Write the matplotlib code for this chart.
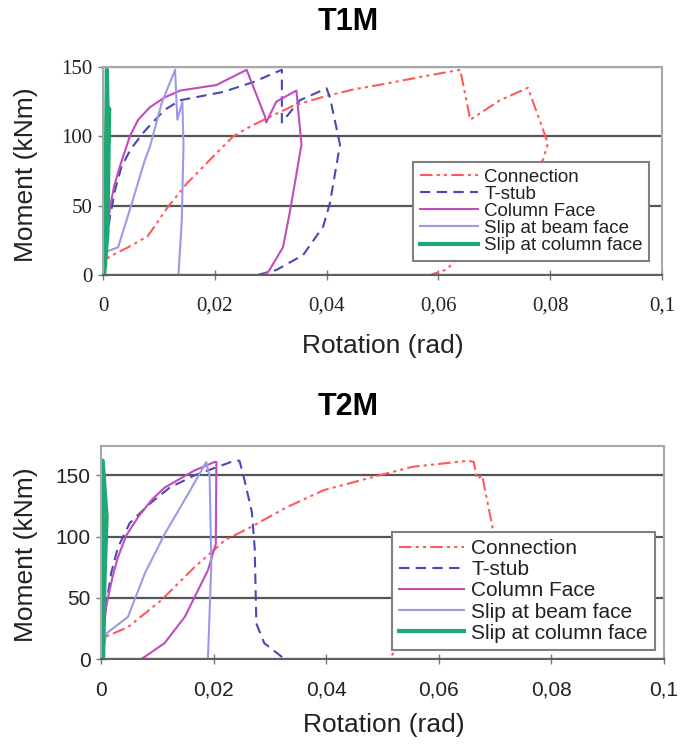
import matplotlib
matplotlib.use("Agg")
import matplotlib.pyplot as plt

# ---------------- data: T1M ----------------
t1_conn_x = [0, 0.001, 0.0045, 0.008, 0.0116, 0.015, 0.0196, 0.0233, 0.0263, 0.0293, 0.034, 0.0394, 0.045, 0.0507, 0.057, 0.0639, 0.0657, 0.071, 0.076, 0.0796, 0.0787, 0.070, 0.0615, 0.0585]
t1_conn_y = [0, 13, 20, 28, 49, 66, 85, 100, 107, 113, 122, 128.5, 134, 138, 143, 148, 112, 126, 135, 95, 83, 40, 4, 0]

t1_tstub_x = [0, 0.0005, 0.00125, 0.0022, 0.0033, 0.005, 0.0075, 0.011, 0.0138, 0.0215, 0.0268, 0.032, 0.032, 0.0352, 0.040, 0.0406, 0.0424, 0.0406, 0.0394, 0.0358, 0.031, 0.0276]
t1_tstub_y = [0, 20, 42, 62, 78, 91, 104, 119, 126, 132, 139, 148, 110, 126, 134.6, 128, 94, 52, 35, 14.4, 3.6, 0]

t1_col_x = [0, 0.0006, 0.00125, 0.002, 0.003, 0.0048, 0.0063, 0.0084, 0.011, 0.0138, 0.0203, 0.0257, 0.029, 0.0292, 0.031, 0.0346, 0.0355, 0.0335, 0.0322, 0.0296, 0.0287]
t1_col_y = [0, 25, 49, 64, 78, 100, 112, 121, 128, 133, 137, 148, 114, 110, 125, 133, 94, 47, 20, 2.4, 0]

t1_beam_x = [0, 0.0007, 0.0027, 0.0048, 0.0075, 0.0084, 0.0105, 0.0129, 0.0133, 0.0142, 0.0144, 0.0141, 0.0135]
t1_beam_y = [0, 17, 20, 47, 83, 92.5, 124, 148, 112, 125, 94, 40, 0]

t1_colslip_x = [0, 0.0004, 0.0007, 0.0009, 0.0006, 0.0011, 0.0008, 0.0003, 0.0002]
t1_colslip_y = [0, 40, 148, 100, 60, 120, 30, 5, 0]

# ---------------- data: T2M ----------------
t2_conn_x = [0, 0.0007, 0.0048, 0.0107, 0.0166, 0.022, 0.0267, 0.033, 0.0396, 0.0494, 0.0553, 0.0653, 0.0662, 0.0668, 0.0677, 0.0697, 0.060, 0.0511]
t2_conn_y = [0, 18, 26, 48, 75, 97, 108, 124, 138, 150, 157, 162, 161, 147, 150, 104, 50, 0]

t2_tstub_x = [0, 0.0008, 0.0018, 0.003, 0.0051, 0.0087, 0.0122, 0.0166, 0.0237, 0.0246, 0.0255, 0.0268, 0.0273, 0.0276, 0.029, 0.0326]
t2_tstub_y = [0, 40, 70, 91, 111, 127, 140, 150, 162, 162, 146, 120, 91, 29, 13, 0]

t2_col_x = [0, 0.0005, 0.001, 0.002, 0.003, 0.0045, 0.0066, 0.009, 0.0113, 0.0166, 0.0202, 0.0205, 0.0204, 0.019, 0.0149, 0.0113, 0.0072]
t2_col_y = [0, 25, 45, 66, 83, 101, 116, 130, 140, 154, 161, 161, 94, 72.5, 34.5, 13, 0]

t2_beam_x = [0, 0.001, 0.0048, 0.0078, 0.0113, 0.0155, 0.0187, 0.0193, 0.0196, 0.019]
t2_beam_y = [0, 21, 34.5, 70, 102, 135, 161, 148.6, 78, 0]

t2_colslip_x = [0, 0.0002, 0.0003, 0.001, 0.0006, 0.0004, 0.0002]
t2_colslip_y = [0, 80, 162, 116, 60, 2, 0]

x_ticks = [0, 0.02, 0.04, 0.06, 0.08, 0.1]
x_ticklabels = ["0", "0,02", "0,04", "0,06", "0,08", "0,1"]
y_ticks = [0, 50, 100, 150]
series_labels = ["Connection", "T-stub", "Column Face", "Slip at beam face", "Slip at column face"]

C_CONN = "#ff5a5a"
C_TSTUB = "#4848b8"
C_COL = "#c24cbc"
C_BEAM = "#9a9ae6"
C_SLIP = "#1fa874"

fig = plt.figure(figsize=(6.93, 7.51), dpi=100)
ax1 = fig.add_axes([0.1486, 0.6338, 0.8067, 0.2770])
ax2 = fig.add_axes([0.1457, 0.1225, 0.8124, 0.2836])


def draw(ax, conn, tstub, col, beam, slip):
    ax.plot(*conn, color=C_CONN, lw=1.5, ls=(0, (6, 2, 1.5, 2, 1.5, 2)), label=series_labels[0])
    ax.plot(*tstub, color=C_TSTUB, lw=1.5, ls=(0, (5, 3)), label=series_labels[1])
    ax.plot(*col, color=C_COL, lw=1.5, label=series_labels[2])
    ax.plot(*beam, color=C_BEAM, lw=1.5, label=series_labels[3])
    ax.plot(*slip, color=C_SLIP, lw=3, label=series_labels[4])


def style(ax, ymax, tickfont, tfs):
    ax.set_xlim(0, 0.1)
    ax.set_ylim(0, ymax)
    ax.set_xticks(x_ticks)
    ax.set_xticklabels(x_ticklabels)
    ax.set_yticks(y_ticks)
    for s in ax.spines.values():
        s.set_color("#a8a8a8")
        s.set_linewidth(1.5)
    ax.spines["bottom"].set_color("#606060")
    ax.yaxis.grid(True, color="#555555", lw=1.6)
    ax.set_axisbelow(True)
    ax.tick_params(axis="both", direction="inout", length=7, color="#777777", width=1)
    for lab in ax.get_xticklabels() + ax.get_yticklabels():
        lab.set_fontfamily(tickfont)
        lab.set_fontsize(tfs)
        lab.set_color("#222222")
    ax.tick_params(axis="x", pad=12)
    ax.tick_params(axis="y", pad=4)


draw(ax1, (t1_conn_x, t1_conn_y), (t1_tstub_x, t1_tstub_y), (t1_col_x, t1_col_y),
     (t1_beam_x, t1_beam_y), (t1_colslip_x, t1_colslip_y))
draw(ax2, (t2_conn_x, t2_conn_y), (t2_tstub_x, t2_tstub_y), (t2_col_x, t2_col_y),
     (t2_beam_x, t2_beam_y), (t2_colslip_x, t2_colslip_y))

style(ax1, 150, "Liberation Serif", 15)
style(ax2, 174, "Liberation Sans", 15)

sans = "Liberation Sans"
fig.text(0.502, 0.971, "T1M", ha="center", va="center", fontsize=22, fontweight="bold", family=sans)
fig.text(0.502, 0.458, "T2M", ha="center", va="center", fontsize=22, fontweight="bold", family=sans)
fig.text(0.553, 0.539, "Rotation (rad)", ha="center", va="center", fontsize=19, family=sans, color="#222222")
fig.text(0.554, 0.034, "Rotation (rad)", ha="center", va="center", fontsize=19, family=sans, color="#222222")
fig.text(0.038, 0.768, "Moment (kNm)", ha="center", va="center", rotation=90, fontsize=19, family=sans, color="#222222")
fig.text(0.038, 0.262, "Moment (kNm)", ha="center", va="center", rotation=90, fontsize=19, family=sans, color="#222222")

for ax, anchor, fs, ls in [(ax1, (0.596, 0.7843), 13.5, 0.0), (ax2, (0.5657, 0.2916), 15, 0.1)]:
    leg = ax.legend(loc="upper left", bbox_to_anchor=anchor, bbox_transform=fig.transFigure,
                    frameon=True, fancybox=False, framealpha=1,
                    handlelength=3.1, handletextpad=0.35, labelspacing=ls,
                    borderpad=0.35, borderaxespad=0.0, prop={"family": sans, "size": fs})
    leg.get_frame().set_edgecolor("#808080")
    leg.get_frame().set_linewidth(1.5)
    for t in leg.get_texts():
        t.set_color("#222222")

fig.savefig("out.png", dpi=100)
